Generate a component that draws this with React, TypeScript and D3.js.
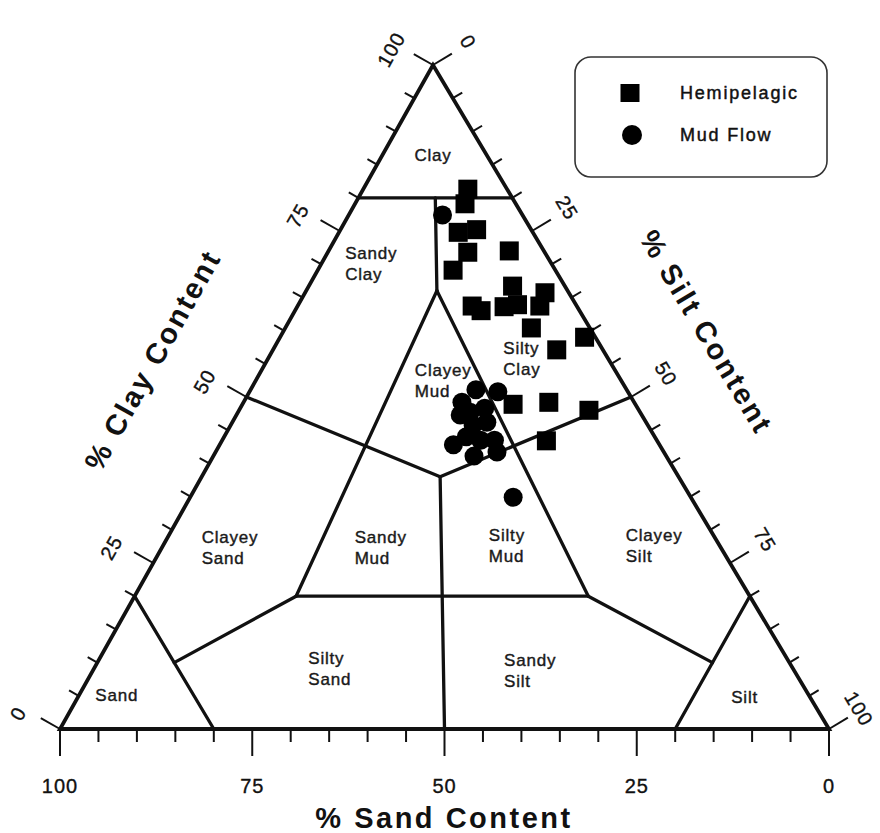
import React from 'react';
import * as d3 from 'd3';

// ---------- data (compositions: [sand %, silt %, clay %]) ----------
const hemipelagic: [number, number, number][] = [
  [5.1, 13.6, 81.3], [6.6, 14.3, 79.1], [9.7, 15.5, 74.8], [7.1, 17.7, 75.2],
  [10.0, 18.2, 71.8], [13.3, 17.6, 69.1], [4.5, 23.5, 72.0], [6.8, 26.5, 66.7],
  [7.6, 28.5, 63.9], [9.5, 26.9, 63.6], [13.6, 22.7, 63.7], [12.8, 24.2, 63.0],
  [3.1, 31.2, 65.7], [4.8, 31.5, 63.7], [7.6, 32.0, 60.4], [6.0, 36.9, 57.1],
  [1.4, 39.6, 59.0], [15.9, 35.2, 48.9], [11.1, 39.7, 49.2], [6.5, 45.5, 48.0],
  [14.4, 42.2, 43.4],
];

const mudFlow: [number, number, number][] = [
  [10.4, 12.2, 77.4], [19.6, 29.3, 51.1], [16.9, 32.3, 50.8], [22.4, 28.4, 49.2],
  [22.1, 30.2, 47.7], [19.9, 31.8, 48.3], [23.6, 29.1, 47.3], [22.7, 31.5, 45.8],
  [20.7, 33.1, 46.2], [24.5, 31.5, 44.0], [26.8, 30.4, 42.8], [22.9, 33.6, 43.5],
  [21.1, 35.4, 43.5], [25.0, 33.9, 41.1], [21.7, 36.6, 41.7], [23.1, 42.0, 34.9],
];

const majorTicks = [0, 25, 50, 75, 100];
const allTicks = d3.range(0, 101, 5);

// classification boundaries, each segment from one composition to another
const boundaries: [[number, number, number], [number, number, number]][] = [
  [[20, 0, 80], [0, 20, 80]],
  [[10, 10, 80], [17, 17, 66]],
  [[17, 17, 66], [59, 21, 20]],
  [[17, 17, 66], [21, 59, 20]],
  [[59, 21, 20], [21, 59, 20]],
  [[50, 0, 50], [31, 31, 38]],
  [[31, 31, 38], [0, 50, 50]],
  [[31, 31, 38], [50, 50, 0]],
  [[59, 21, 20], [80, 10, 10]],
  [[21, 59, 20], [10, 80, 10]],
  [[80, 0, 20], [80, 20, 0]],
  [[0, 80, 20], [20, 80, 0]],
];

const regionNames: string[][] = [
  ['Clay'], ['Sandy', 'Clay'], ['Clayey', 'Mud'], ['Silty', 'Clay'],
  ['Clayey', 'Sand'], ['Sandy', 'Mud'], ['Silty', 'Mud'], ['Clayey', 'Silt'],
  ['Sand'], ['Silty', 'Sand'], ['Sandy', 'Silt'], ['Silt'],
];
const regionAnchors: [number, number, number][] = [
  [7, 6.6, 86.4], [26, 2.3, 71.7], [26, 19.9, 54.1], [12.8, 29.8, 57.4],
  [66.7, 4.4, 28.9], [46.8, 24.3, 28.9], [29.2, 41.6, 29.2], [11.4, 59.4, 29.2],
  [90, 4.9, 5.1], [62.2, 27.1, 10.7], [36.9, 52.7, 10.4], [8.5, 86.7, 4.8],
];

const legendItems = ['Hemipelagic', 'Mud Flow'];

// ---------- layout ----------
const W = 880;
const H = 833;
const V_SAND: [number, number] = [60, 729];
const V_SILT: [number, number] = [829, 729];
const V_CLAY: [number, number] = [433, 65];

const frac = d3.scaleLinear().domain([0, 100]).range([0, 1]);
const toXY = (s: number, si: number, c: number): [number, number] => [
  V_SAND[0] * frac(s) + V_SILT[0] * frac(si) + V_CLAY[0] * frac(c),
  V_SAND[1] * frac(s) + V_SILT[1] * frac(si) + V_CLAY[1] * frac(c),
];

const unit = (a: [number, number], b: [number, number]) => {
  const dx = b[0] - a[0], dy = b[1] - a[1];
  const l = Math.hypot(dx, dy);
  return [dx / l, dy / l] as [number, number];
};
const eL = unit(V_SAND, V_CLAY);
const nL: [number, number] = [eL[1], -eL[0]];
const eR = unit(V_CLAY, V_SILT);
const nR: [number, number] = [eR[1], -eR[0]];
const angL = (Math.atan2(eL[1], eL[0]) * 180) / Math.PI;
const angR = (Math.atan2(eR[1], eR[0]) * 180) / Math.PI;

const FONT = "'Liberation Sans', Arial, Helvetica, sans-serif";
const INK = '#111';

export default function App() {
  const line = d3.line<[number, number]>();
  const tri = line([V_SAND, V_SILT, V_CLAY, V_SAND] as [number, number][]) + 'Z';

  const leftPos = (v: number) => toXY(100 - v, 0, v);
  const rightPos = (v: number) => toXY(0, v, 100 - v);
  const bottomPos = (v: number) => toXY(v, 100 - v, 0);

  const tickLen = (v: number) => (majorTicks.includes(v) ? 22 : 11);

  const clayTitle = (() => {
    const p = leftPos(48.2);
    return [p[0] + nL[0] * 100, p[1] + nL[1] * 100];
  })();
  const siltTitle = (() => {
    const p = rightPos(47.8);
    return [p[0] + nR[0] * 98, p[1] + nR[1] * 98];
  })();

  return (
    <svg
      width={W}
      height={H}
      viewBox={`0 0 ${W} ${H}`}
      style={{ position: 'absolute', left: 0, top: 0, background: '#fff' }}
      fontFamily={FONT}
    >
      <rect width={W} height={H} fill="#fff" />

      {/* classification boundaries */}
      <g stroke={INK} strokeWidth={3.3} fill="none" strokeLinecap="round" strokeLinejoin="round">
        {boundaries.map((b, i) => (
          <path key={i} d={line([toXY(...b[0]), toXY(...b[1])]) || ''} />
        ))}
      </g>

      {/* triangle */}
      <path d={tri} fill="none" stroke={INK} strokeWidth={3.8} strokeLinejoin="miter" />

      {/* ticks */}
      <g stroke={INK} strokeWidth={2}>
        {allTicks.map((v) => {
          const p = bottomPos(v);
          const len = majorTicks.includes(v) ? 27 : 13;
          return <line key={'b' + v} x1={p[0]} y1={p[1]} x2={p[0]} y2={p[1] + len} />;
        })}
        {allTicks.map((v) => {
          const p = leftPos(v);
          const len = tickLen(v);
          return <line key={'l' + v} x1={p[0]} y1={p[1]} x2={p[0] + nL[0] * len} y2={p[1] + nL[1] * len} />;
        })}
        {allTicks.map((v) => {
          const p = rightPos(v);
          const len = tickLen(v);
          return <line key={'r' + v} x1={p[0]} y1={p[1]} x2={p[0] + nR[0] * len} y2={p[1] + nR[1] * len} />;
        })}
      </g>

      {/* tick labels */}
      <g fill={INK} stroke={INK} strokeWidth={0.35} fontSize={20} letterSpacing={1} textAnchor="middle">
        {majorTicks.map((v) => {
          const p = bottomPos(v);
          return (
            <text key={'bl' + v} x={p[0]} y={786} dy="0.35em">
              {v}
            </text>
          );
        })}
        {majorTicks.map((v) => {
          const p = leftPos(v);
          const x = p[0] + nL[0] * 44 - eL[0] * 7;
          const y = p[1] + nL[1] * 44 - eL[1] * 7;
          return (
            <text key={'ll' + v} x={x} y={y} dy="0.35em" transform={`rotate(${angL} ${x} ${y})`}>
              {v}
            </text>
          );
        })}
        {majorTicks.map((v) => {
          const p = rightPos(v);
          const off = v === 100 ? 36 : 42;
          const x = p[0] + nR[0] * off - eR[0] * 2;
          const y = p[1] + nR[1] * off - eR[1] * 2;
          return (
            <text key={'rl' + v} x={x} y={y} dy="0.35em" transform={`rotate(${angR} ${x} ${y})`}>
              {v}
            </text>
          );
        })}
      </g>

      {/* axis titles */}
      <g fill={INK} fontSize={29} fontWeight="bold" letterSpacing={2.5} textAnchor="middle">
        <text x={444} y={828}>% Sand Content</text>
        <text
          x={clayTitle[0]}
          y={clayTitle[1]}
          dy="0.35em"
          transform={`rotate(${angL} ${clayTitle[0]} ${clayTitle[1]})`}
        >
          % Clay Content
        </text>
        <text
          x={siltTitle[0]}
          y={siltTitle[1]}
          dy="0.35em"
          transform={`rotate(${angR} ${siltTitle[0]} ${siltTitle[1]})`}
        >
          % Silt Content
        </text>
      </g>

      {/* region labels */}
      <g fill="#1a1a1a" stroke="#1a1a1a" strokeWidth={0.4} fontSize={17} letterSpacing={0.8}>
        {regionNames.map((lines, i) => {
          const p = toXY(...regionAnchors[i]);
          const single = lines.length === 1;
          return (
            <text key={'rg' + i} x={p[0]} y={p[1]} textAnchor={single ? 'middle' : 'start'}>
              {lines.map((t, j) => (
                <tspan key={j} x={p[0]} dy={j === 0 ? '0.35em' : 21}>
                  {t}
                </tspan>
              ))}
            </text>
          );
        })}
      </g>

      {/* data */}
      <g fill="#000">
        {hemipelagic.map((d, i) => {
          const p = toXY(...d);
          return <rect key={'h' + i} x={p[0] - 9.5} y={p[1] - 9.5} width={19} height={19} />;
        })}
        {mudFlow.map((d, i) => {
          const p = toXY(...d);
          return <circle key={'m' + i} cx={p[0]} cy={p[1]} r={9.5} />;
        })}
      </g>

      {/* legend */}
      <g>
        <rect x={575} y={57} width={252} height={120} rx={16} fill="#fff" stroke="#333" strokeWidth={1.6} />
        <rect x={620.5} y={84} width={19} height={18} fill="#000" />
        <circle cx={632} cy={135} r={10} fill="#000" />
        <g fill={INK} stroke={INK} strokeWidth={0.45} fontSize={18} letterSpacing={1.8}>
          {legendItems.map((t, i) => (
            <text key={t} x={680} y={93 + i * 42} dy="0.35em">
              {t}
            </text>
          ))}
        </g>
      </g>
    </svg>
  );
}
